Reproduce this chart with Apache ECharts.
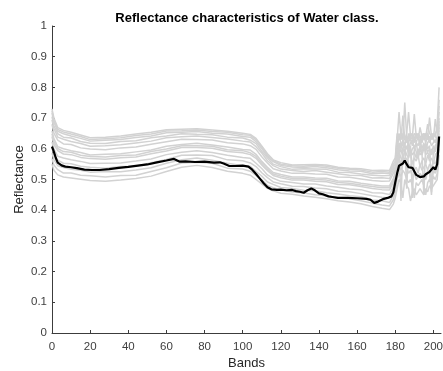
<!DOCTYPE html>
<html>
<head>
<meta charset="utf-8">
<script src="https://cdn.jsdelivr.net/npm/echarts@6/dist/echarts.min.js"></script>
<style>
  html, body { margin: 0; padding: 0; background: #fff; }
  #chart { width: 443px; height: 371px; }
</style>
</head>
<body>
<div id="chart"></div>
<script>
// Band positions at which the individual water-pixel spectra are sampled
const sampleBands = [0,1,3,6,10,15,20,28,36,44,52,60,68,76,84,92,100,104,107,110,113,116,120,126,132,138,144,150,156,162,168,173,177,179,
  180,181,182,183,184,185,186,187,188,189,190,191,192,193,194,195,196,197,198,199,200,201,202,203];

// Individual pixel spectra (reflectance)
const pixel01 = [0.550,0.530,0.515,0.508,0.505,0.501,0.497,0.494,0.498,0.503,0.511,0.526,0.540,0.546,0.539,0.527,0.520,0.514,0.500,0.486,0.471,0.463,0.455,0.452,0.446,0.442,0.437,0.431,0.427,0.421,0.412,0.406,0.402,0.420,
  0.44,0.47,0.50,0.49,0.44,0.50,0.48,0.47,0.43,0.46,0.47,0.45,0.46,0.47,0.46,0.45,0.47,0.46,0.48,0.47,0.48,0.49,0.50,0.58];
const pixel02 = [0.568,0.547,0.532,0.521,0.521,0.514,0.512,0.508,0.513,0.514,0.526,0.538,0.554,0.556,0.553,0.537,0.534,0.527,0.513,0.499,0.481,0.473,0.466,0.459,0.456,0.450,0.447,0.440,0.437,0.431,0.423,0.417,0.414,0.434,
  0.46,0.50,0.52,0.51,0.53,0.52,0.50,0.49,0.50,0.48,0.44,0.49,0.48,0.49,0.50,0.48,0.45,0.49,0.50,0.49,0.51,0.50,0.52,0.60];
const pixel03 = [0.586,0.565,0.545,0.539,0.533,0.530,0.524,0.526,0.525,0.531,0.538,0.553,0.564,0.570,0.563,0.553,0.545,0.543,0.526,0.511,0.492,0.484,0.474,0.471,0.465,0.463,0.457,0.453,0.447,0.444,0.433,0.431,0.425,0.448,
  0.47,0.52,0.55,0.53,0.55,0.57,0.54,0.52,0.53,0.51,0.52,0.50,0.51,0.52,0.51,0.52,0.50,0.53,0.52,0.45,0.53,0.52,0.54,0.62];
const pixel04 = [0.604,0.580,0.563,0.553,0.551,0.543,0.540,0.537,0.542,0.543,0.555,0.565,0.579,0.580,0.578,0.564,0.561,0.554,0.542,0.522,0.506,0.492,0.486,0.478,0.477,0.472,0.470,0.462,0.460,0.454,0.447,0.442,0.440,0.462,
  0.48,0.54,0.57,0.55,0.58,0.56,0.57,0.55,0.54,0.56,0.53,0.54,0.52,0.55,0.53,0.54,0.55,0.53,0.55,0.54,0.56,0.55,0.57,0.63];
const pixel05 = [0.622,0.599,0.576,0.570,0.564,0.559,0.552,0.553,0.554,0.560,0.567,0.581,0.589,0.594,0.588,0.579,0.572,0.569,0.553,0.536,0.515,0.504,0.494,0.490,0.485,0.485,0.479,0.475,0.469,0.467,0.457,0.456,0.451,0.476,
  0.50,0.55,0.59,0.57,0.56,0.60,0.58,0.57,0.59,0.55,0.57,0.56,0.58,0.54,0.56,0.57,0.55,0.58,0.56,0.57,0.55,0.58,0.59,0.65];
const pixel06 = [0.640,0.614,0.594,0.583,0.581,0.572,0.568,0.566,0.571,0.573,0.584,0.593,0.604,0.604,0.602,0.591,0.587,0.581,0.569,0.547,0.529,0.513,0.506,0.498,0.498,0.494,0.493,0.484,0.483,0.477,0.471,0.467,0.466,0.490,
  0.51,0.57,0.60,0.62,0.59,0.61,0.60,0.62,0.58,0.60,0.61,0.59,0.57,0.60,0.58,0.60,0.61,0.59,0.60,0.58,0.61,0.59,0.62,0.66];
const pixel07 = [0.658,0.633,0.607,0.600,0.594,0.588,0.580,0.582,0.584,0.590,0.596,0.608,0.614,0.618,0.612,0.606,0.598,0.596,0.582,0.559,0.540,0.523,0.516,0.508,0.508,0.505,0.504,0.495,0.494,0.488,0.483,0.479,0.479,0.504,
  0.52,0.59,0.62,0.60,0.63,0.61,0.64,0.60,0.62,0.63,0.60,0.62,0.61,0.63,0.60,0.62,0.59,0.62,0.63,0.61,0.62,0.63,0.61,0.68];
const pixel08 = [0.680,0.651,0.628,0.616,0.614,0.603,0.599,0.597,0.603,0.606,0.615,0.623,0.631,0.630,0.629,0.620,0.616,0.610,0.598,0.574,0.554,0.535,0.528,0.520,0.520,0.518,0.517,0.508,0.507,0.502,0.497,0.494,0.495,0.521,
  0.53,0.60,0.64,0.62,0.61,0.64,0.62,0.65,0.63,0.61,0.64,0.62,0.64,0.61,0.63,0.64,0.62,0.64,0.62,0.64,0.63,0.62,0.64,0.70];
const pixel09 = [0.694,0.667,0.638,0.631,0.624,0.617,0.608,0.610,0.613,0.619,0.625,0.636,0.639,0.642,0.637,0.632,0.625,0.622,0.607,0.586,0.561,0.545,0.534,0.529,0.526,0.529,0.524,0.519,0.514,0.513,0.505,0.506,0.503,0.532,
  0.54,0.62,0.65,0.63,0.708,0.63,0.64,0.62,0.64,0.65,0.62,0.64,0.63,0.64,0.62,0.64,0.65,0.63,0.64,0.63,0.65,0.64,0.63,0.72];
const pixel10 = [0.705,0.675,0.649,0.638,0.635,0.624,0.618,0.617,0.624,0.626,0.636,0.642,0.649,0.647,0.646,0.638,0.635,0.628,0.617,0.592,0.570,0.550,0.542,0.533,0.535,0.534,0.533,0.524,0.523,0.518,0.514,0.512,0.513,0.540,
  0.55,0.63,0.72,0.64,0.63,0.751,0.64,0.63,0.65,0.64,0.63,0.65,0.64,0.62,0.65,0.63,0.64,0.65,0.63,0.65,0.64,0.65,0.66,0.74];
const pixel11 = [0.716,0.687,0.657,0.649,0.642,0.634,0.625,0.628,0.630,0.637,0.642,0.652,0.654,0.656,0.651,0.648,0.640,0.638,0.623,0.601,0.575,0.558,0.546,0.541,0.539,0.542,0.538,0.532,0.528,0.527,0.519,0.521,0.519,0.549,
  0.56,0.64,0.63,0.65,0.64,0.63,0.65,0.72,0.64,0.63,0.65,0.64,0.65,0.64,0.63,0.65,0.64,0.68,0.65,0.64,0.63,0.697,0.65,0.76];
const pixel12 = [0.730,0.700,0.669,0.660,0.654,0.645,0.636,0.638,0.642,0.648,0.654,0.662,0.664,0.665,0.661,0.657,0.651,0.647,0.634,0.609,0.584,0.564,0.555,0.547,0.548,0.549,0.547,0.540,0.537,0.535,0.529,0.530,0.529,0.560,
  0.57,0.65,0.64,0.63,0.65,0.64,0.63,0.64,0.65,0.64,0.713,0.64,0.63,0.67,0.64,0.65,0.63,0.64,0.702,0.64,0.65,0.64,0.68,0.80];
const pixel13 = [0.649,0.623,0.601,0.591,0.589,0.579,0.575,0.573,0.578,0.580,0.591,0.599,0.610,0.610,0.608,0.597,0.594,0.587,0.575,0.553,0.534,0.518,0.511,0.503,0.503,0.500,0.498,0.490,0.488,0.482,0.477,0.473,0.473,0.497,
  0.52,0.58,0.61,0.43,0.60,0.62,0.47,0.60,0.61,0.44,0.60,0.62,0.58,0.61,0.59,0.45,0.62,0.60,0.61,0.46,0.59,0.61,0.62,0.67];
const pixel14 = [0.723,0.694,0.663,0.655,0.648,0.640,0.630,0.633,0.636,0.643,0.648,0.658,0.659,0.661,0.656,0.654,0.646,0.644,0.629,0.606,0.579,0.562,0.550,0.545,0.543,0.547,0.543,0.537,0.533,0.531,0.524,0.526,0.524,0.554,
  0.49,0.56,0.58,0.60,0.57,0.59,0.61,0.58,0.60,0.58,0.59,0.57,0.60,0.58,0.59,0.61,0.58,0.59,0.57,0.60,0.58,0.60,0.61,0.69];

// Class mean spectrum
const meanBands = [0,1,2,3,5,7,10,13,17,21,25,30,35,40,45,50,55,60,64,65,67,70,75,80,85,88,90,93,96,100,103,105,107,109,111,113,115,118,120,123,126,128,130,132,134,136,138,140,142,145,147,150,155,160,165,167,169,171,172,174,176,178,179,
  180,181,182,183,184,185,186,187,188,189,190,191,192,193,194,195,196,197,198,199,200,201,202,203];
const meanReflectance = [0.607,0.590,0.570,0.555,0.546,0.542,0.540,0.537,0.532,0.531,0.531,0.534,0.538,0.541,0.545,0.549,0.556,0.562,0.567,0.569,0.558,0.559,0.557,0.558,0.555,0.556,0.552,0.544,0.544,0.545,0.542,0.532,0.518,0.503,0.488,0.475,0.468,0.466,0.467,0.465,0.466,0.462,0.460,0.457,0.465,0.471,0.464,0.455,0.452,0.445,0.443,0.440,0.440,0.439,0.437,0.434,0.424,0.428,0.434,0.437,0.440,0.445,0.458,
  0.490,0.520,0.545,0.540,0.552,0.562,0.550,0.540,0.543,0.538,0.540,0.515,0.512,0.508,0.512,0.510,0.517,0.520,0.525,0.523,0.540,0.532,0.550,0.640];

const xTicks = [0,20,40,60,80,100,120,140,160,180,200];

const pixelSpectra = [pixel01,pixel02,pixel03,pixel04,pixel05,pixel06,pixel07,pixel08,pixel09,pixel10,pixel11,pixel12,pixel13,pixel14];

const FONT = '"Liberation Sans", Arial, Helvetica, sans-serif';
const AXIS_COLOR = '#3c3c3c';

const series = pixelSpectra.map((arr, k) => ({
  name: 'pixel' + (k + 1),
  type: 'line',
  data: sampleBands.map((b, i) => [b, arr[i]]),
  showSymbol: false,
  symbol: 'none',
  silent: true,
  animation: false,
  z: 2,
  lineStyle: { color: '#d2d2d2', width: 1.5 }
}));

series.push({
  name: 'mean',
  type: 'line',
  data: meanBands.map((b, i) => [b, meanReflectance[i]]),
  showSymbol: false,
  symbol: 'none',
  silent: true,
  animation: false,
  z: 5,
  lineStyle: { color: '#000000', width: 2.2 }
});

const chart = echarts.init(document.getElementById('chart'), null, { renderer: 'canvas' });
chart.setOption({
  animation: false,
  backgroundColor: '#ffffff',
  title: {
    text: 'Reflectance characteristics of Water class.',
    left: 242,
    top: 7,
    textAlign: 'center',
    textStyle: { fontFamily: FONT, fontSize: 13, fontWeight: 'bold', color: '#000' }
  },
  grid: { left: 52, right: 2, top: 26, bottom: 38, containLabel: false, outerBoundsMode: 'none' },
  xAxis: {
    type: 'value',
    min: 0,
    max: 204,
    name: 'Bands',
    nameLocation: 'middle',
    nameGap: 24,
    nameMoveOverlap: false,
    nameTextStyle: { fontFamily: FONT, fontSize: 13, color: '#262626' },
    axisLine: { show: true, lineStyle: { color: AXIS_COLOR, width: 1 } },
    axisTick: { show: true, inside: true, length: 3, customValues: xTicks, lineStyle: { color: AXIS_COLOR } },
    axisLabel: { customValues: xTicks, margin: 8, fontFamily: FONT, fontSize: 11.5, color: '#404040' },
    splitLine: { show: false }
  },
  yAxis: {
    type: 'value',
    min: 0,
    max: 1,
    interval: 0.1,
    name: 'Reflectance',
    nameLocation: 'middle',
    nameGap: 26,
    nameMoveOverlap: false,
    nameTextStyle: { fontFamily: FONT, fontSize: 13, color: '#262626' },
    axisLine: { show: true, lineStyle: { color: AXIS_COLOR, width: 1 } },
    axisTick: { show: true, inside: true, length: 3, lineStyle: { color: AXIS_COLOR } },
    axisLabel: { margin: 5, fontFamily: FONT, fontSize: 11.5, color: '#404040' },
    splitLine: { show: false }
  },
  series: series
});
</script>
</body>
</html>
